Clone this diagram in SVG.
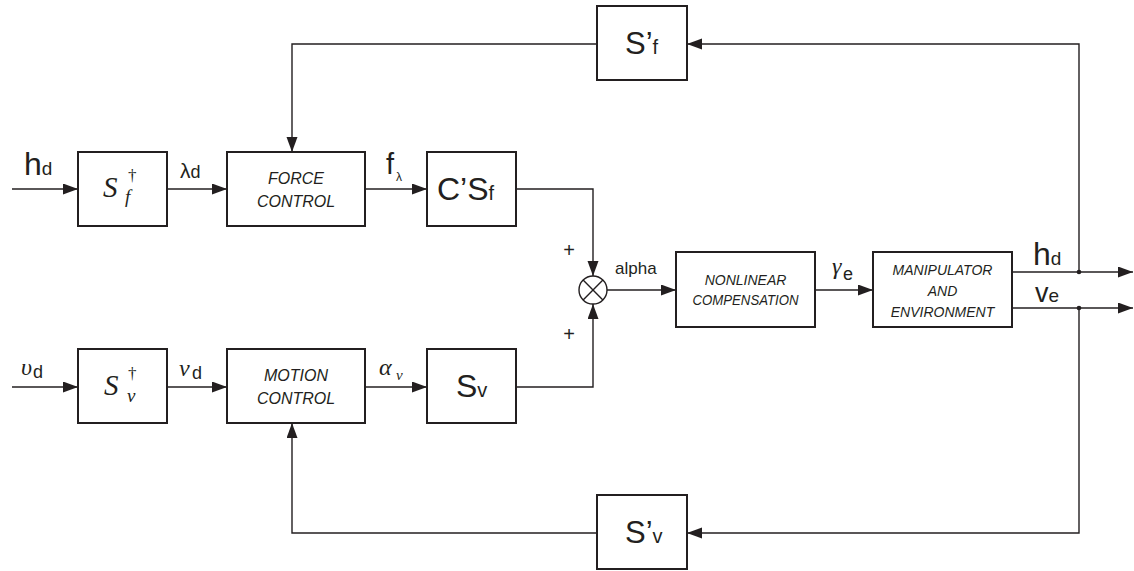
<svg xmlns="http://www.w3.org/2000/svg" width="1134" height="571" viewBox="0 0 1134 571">
<style>
.box{fill:#fff;stroke:#231f20;stroke-width:2}
.ln{fill:none;stroke:#231f20;stroke-width:1.4}
.arr{marker-end:url(#ah)}
.blk{font-family:"Liberation Sans",Arial,sans-serif;font-style:italic;fill:#231f20;text-anchor:middle}
.big{font-family:"Liberation Sans",Arial,sans-serif;fill:#231f20}
.mth{font-family:"Liberation Serif","Times New Roman",serif;font-style:italic;fill:#231f20}
.dag{font-family:"Liberation Serif","Times New Roman",serif;fill:#231f20}
</style>
<defs>
<marker id="ah" markerUnits="userSpaceOnUse" markerWidth="16" markerHeight="12" refX="15" refY="5.5" orient="auto">
<path d="M0,0 L15,5.5 L0,11 z" fill="#231f20"/>
</marker>
</defs>
<rect width="1134" height="571" fill="#fff"/>

<g id="connectors">
<path class="ln arr" d="M12,189 H78"/>
<path class="ln arr" d="M167,189 H227"/>
<path class="ln arr" d="M365,189 H427"/>
<path class="ln arr" d="M516,189 H593 V276"/>
<path class="ln arr" d="M12,387 H78"/>
<path class="ln arr" d="M167,387 H227"/>
<path class="ln arr" d="M365,387 H427"/>
<path class="ln arr" d="M516,387 H593 V304"/>
<path class="ln arr" d="M607,290 H676"/>
<path class="ln arr" d="M815,290 H873"/>
<path class="ln arr" d="M1012,272 H1133"/>
<path class="ln arr" d="M1012,308 H1133"/>
<path class="ln arr" d="M1079,272 V44 H687"/>
<path class="ln arr" d="M1079,308 V533 H687"/>
<path class="ln arr" d="M597,44 H292 V152"/>
<path class="ln arr" d="M597,533 H292 V423"/>
<circle cx="1079" cy="272" r="2.3" fill="#231f20"/>
<circle cx="1079" cy="308" r="2.3" fill="#231f20"/>
</g>

<g id="labels">
<text class="big" x="24" y="175" font-size="32">h<tspan font-size="19">d</tspan></text>
<text class="big" x="180" y="178" font-size="21">λ<tspan font-size="18">d</tspan></text>
<text class="big" x="386" y="174" font-size="29">f</text>
<text class="big" x="396" y="181" font-size="12">λ</text>
<text class="mth" x="21" y="375" font-size="24">υ</text>
<text class="big" x="33" y="378" font-size="18">d</text>
<text class="mth" x="179" y="376" font-size="24">ν</text>
<text class="big" x="192" y="379" font-size="18">d</text>
<text class="mth" x="379" y="375" font-size="24">α</text>
<text class="mth" x="396" y="380" font-size="15">ν</text>
<text class="big" x="615" y="274" font-size="17">alpha</text>
<text class="mth" x="832" y="274" font-size="24">γ</text>
<text class="big" x="843" y="280" font-size="18">e</text>
<text class="big" x="1033" y="265" font-size="32">h<tspan font-size="19">d</tspan></text>
<text class="big" x="1035" y="302" font-size="27">v<tspan font-size="19">e</tspan></text>
<text class="big" x="569" y="257" font-size="20" text-anchor="middle">+</text>
<text class="big" x="569" y="341" font-size="20" text-anchor="middle">+</text>
</g>

<g id="sum">
<circle cx="593" cy="290" r="14" fill="#fff" stroke="#231f20" stroke-width="1.4"/>
<path class="ln" d="M583.1,280.1 L602.9,299.9 M602.9,280.1 L583.1,299.9"/>
</g>

<g id="Sf_dag">
<rect class="box" x="78" y="152" width="89" height="74"/>
<text class="mth" x="103" y="197" font-size="29">S</text>
<text class="dag" x="128" y="181" font-size="17">†</text>
<text class="mth" x="125" y="203" font-size="19">f</text>
</g>

<g id="force_control">
<rect class="box" x="227" y="152" width="138" height="74"/>
<text class="blk" x="296" y="184" font-size="16">FORCE</text>
<text class="blk" x="296" y="207" font-size="16">CONTROL</text>
</g>

<g id="CSf">
<rect class="box" x="427" y="152" width="89" height="74"/>
<text class="big" x="437" y="200" font-size="32">C’S<tspan font-size="20">f</tspan></text>
</g>

<g id="Sv_dag">
<rect class="box" x="78" y="349" width="89" height="74"/>
<text class="mth" x="104" y="395" font-size="29">S</text>
<text class="dag" x="128" y="379" font-size="17">†</text>
<text class="mth" x="127" y="402" font-size="19">v</text>
</g>

<g id="motion_control">
<rect class="box" x="227" y="349" width="138" height="74"/>
<text class="blk" x="296" y="381" font-size="16">MOTION</text>
<text class="blk" x="296" y="404" font-size="16">CONTROL</text>
</g>

<g id="Sv">
<rect class="box" x="427" y="349" width="89" height="74"/>
<text class="big" x="456" y="397" font-size="32">S<tspan font-size="20">v</tspan></text>
</g>

<g id="nonlinear">
<rect class="box" x="676" y="252" width="139" height="75"/>
<text class="blk" x="745.5" y="285" font-size="14">NONLINEAR</text>
<text class="blk" x="745.5" y="305" font-size="14" textLength="106" lengthAdjust="spacingAndGlyphs">COMPENSATION</text>
</g>

<g id="manipulator">
<rect class="box" x="873" y="252" width="139" height="75"/>
<text class="blk" x="942.5" y="275" font-size="14">MANIPULATOR</text>
<text class="blk" x="942.5" y="296" font-size="14">AND</text>
<text class="blk" x="942.5" y="317" font-size="14">ENVIRONMENT</text>
</g>

<g id="Spf">
<rect class="box" x="597" y="6" width="90" height="74"/>
<text class="big" x="625" y="54" font-size="31">S’<tspan font-size="20">f</tspan></text>
</g>

<g id="Spv">
<rect class="box" x="597" y="495" width="90" height="74"/>
<text class="big" x="625" y="543" font-size="31">S’<tspan font-size="20">v</tspan></text>
</g>
</svg>
